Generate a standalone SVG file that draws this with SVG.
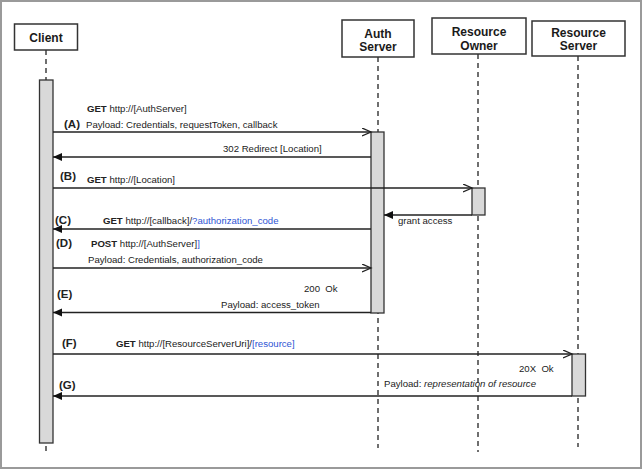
<svg xmlns="http://www.w3.org/2000/svg" width="643" height="471" viewBox="0 0 643 471">
<style>
.frame{fill:#fff;stroke:#9a9a9a;stroke-width:2}
.hdr{fill:#fff;stroke:#333;stroke-width:1.5}
.ht{font-family:"Liberation Sans",Arial,sans-serif;font-size:12px;font-weight:bold;fill:#1a1a1a;text-anchor:middle}
.life{stroke:#333;stroke-width:1.4;stroke-dasharray:5,4;fill:none}
.act{fill:#d9d9d9;stroke:#333;stroke-width:1.3}
.msg{stroke:#222;stroke-width:1.3;fill:none}
.t{font-family:"Liberation Sans",Arial,sans-serif;font-size:9.6px;fill:#222;white-space:pre}
.b{font-weight:bold}
.blue{fill:#2f55d4}
.lab{font-family:"Liberation Sans",Arial,sans-serif;font-size:11.5px;font-weight:bold;fill:#222}
</style>
<defs>
<marker id="open" markerUnits="userSpaceOnUse" markerWidth="11" markerHeight="10" refX="9" refY="4" orient="auto">
<path d="M0,0 L9,4 L0,8" fill="none" stroke="#222" stroke-width="1.3"/>
</marker>
<marker id="fill" markerUnits="userSpaceOnUse" markerWidth="11" markerHeight="10" refX="9" refY="4" orient="auto">
<path d="M0,0 L9,4 L0,8 z" fill="#111"/>
</marker>
</defs>
<rect class="frame" x="1" y="1" width="640" height="467"/>

<g id="client">
<rect class="hdr" x="14.5" y="24" width="63" height="26"/>
<text class="ht" x="46" y="41.5">Client</text>
<line class="life" x1="46" y1="50" x2="46" y2="452"/>
<rect class="act" x="39.5" y="80" width="13.5" height="363"/>
</g>

<g id="auth-server">
<rect class="hdr" x="342" y="20" width="72" height="37"/>
<text class="ht" x="378" y="37.5">Auth</text>
<text class="ht" x="378" y="51">Server</text>
<line class="life" x1="378" y1="57" x2="378" y2="448"/>
<rect class="act" x="371" y="132" width="13" height="181"/>
</g>

<g id="resource-owner">
<rect class="hdr" x="432" y="18" width="94" height="36"/>
<text class="ht" x="479" y="36">Resource</text>
<text class="ht" x="479" y="49.5">Owner</text>
<line class="life" x1="478" y1="54" x2="478" y2="452"/>
<rect class="act" x="472" y="188" width="13" height="27"/>
</g>

<g id="resource-server">
<rect class="hdr" x="532" y="21" width="93" height="35"/>
<text class="ht" x="578.5" y="36.5">Resource</text>
<text class="ht" x="578.5" y="50">Server</text>
<line class="life" x1="578" y1="56" x2="578" y2="447"/>
<rect class="act" x="572" y="354" width="13.5" height="42"/>
</g>

<g id="connectors">
<line class="msg" x1="53" y1="132" x2="371" y2="132" marker-end="url(#open)"/>
<line class="msg" x1="371" y1="157" x2="53" y2="157" marker-end="url(#fill)"/>
<line class="msg" x1="53" y1="188" x2="472" y2="188" marker-end="url(#open)"/>
<line class="msg" x1="472" y1="215" x2="384" y2="215" marker-end="url(#fill)"/>
<line class="msg" x1="371" y1="229" x2="53" y2="229" marker-end="url(#fill)"/>
<line class="msg" x1="53" y1="268" x2="371" y2="268" marker-end="url(#open)"/>
<line class="msg" x1="371" y1="312.5" x2="53" y2="312.5" marker-end="url(#fill)"/>
<line class="msg" x1="53" y1="354" x2="572" y2="354" marker-end="url(#open)"/>
<line class="msg" x1="572" y1="396" x2="53" y2="396" marker-end="url(#fill)"/>
</g>

<g id="labels">
<text class="t" x="87" y="111.5"><tspan class="b">GET</tspan> http://[AuthServer]</text>
<text class="lab" x="64" y="128">(A)</text>
<text class="t" x="86" y="127.5">Payload: Credentials, requestToken, callback</text>
<text class="t" x="223" y="151.5">302 Redirect [Location]</text>
<text class="lab" x="60" y="180">(B)</text>
<text class="t" x="87" y="182.5"><tspan class="b">GET</tspan> http://[Location]</text>
<text class="t" x="398" y="223.5">grant access</text>
<text class="lab" x="55" y="224">(C)</text>
<text class="t" x="103" y="223.5"><tspan class="b">GET</tspan> http://[callback]/<tspan class="blue">?authorization_code</tspan></text>
<text class="lab" x="56" y="247">(D)</text>
<text class="t" x="91" y="246.5"><tspan class="b">POST</tspan> http://[AuthServer]<tspan class="blue">]</tspan></text>
<text class="t" x="88" y="262.5">Payload: Credentials, authorization_code</text>
<text class="t" x="304" y="291.5">200  Ok</text>
<text class="lab" x="57" y="298">(E)</text>
<text class="t" x="221" y="307.5">Payload: access_token</text>
<text class="lab" x="62" y="347">(F)</text>
<text class="t" x="116" y="346.5"><tspan class="b">GET</tspan> http://[ResourceServerUri]/<tspan class="blue">[resource]</tspan></text>
<text class="t" x="519" y="371.5">20X  Ok</text>
<text class="t" x="384" y="386.5">Payload: <tspan font-style="italic">representation of resource</tspan></text>
<text class="lab" x="59" y="388.5">(G)</text>
</g>
</svg>
